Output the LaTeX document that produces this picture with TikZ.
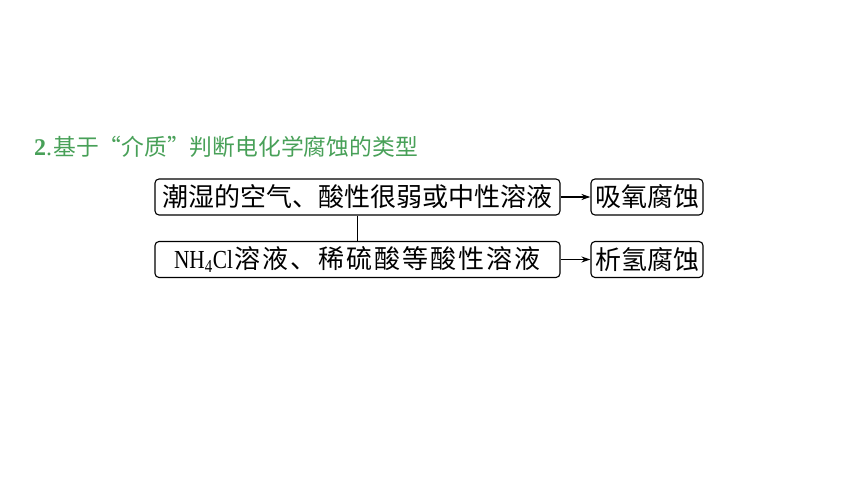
\documentclass[tikz,border=0pt]{standalone}
\usepackage{fontspec}
\setmainfont{Liberation Serif}
\newfontfamily\cjk{Noto Sans CJK SC}
\newfontfamily\latcond[FakeStretch=0.82]{Liberation Serif}
\usetikzlibrary{arrows.meta}
\definecolor{titlegreen}{RGB}{72,160,88}
\newcommand{\spch}[1]{#1\kern2pt}
\tikzset{
  box/.style={draw, line width=1.1pt, rounded corners=4pt, inner sep=0pt, minimum height=36pt, font=\fontsize{26}{28}\selectfont},
  link/.style={line width=1.1pt},
  arr/.style={line width=1.1pt, -{Stealth[length=9pt,width=6pt]}}
}
\begin{document}
\begin{tikzpicture}[x=1pt,y=-1pt]
\useasboundingbox (0,0) rectangle (860,484);
\node[anchor=west, text=titlegreen, font=\fontsize{22.8}{24}\selectfont, inner sep=0pt] (title) at (34,146.5) {{\fontsize{24}{24}\selectfont\textbf{2}.}\kern1pt\cjk 基于“介质”判断电化学腐蚀的类型};
\node[box, minimum width=405pt] (a) at (357.5,197) {\cjk 潮湿的空气、酸性很弱或中性溶液};
\node[box, minimum width=405pt] (b) at (357.5,259.5) {\latcond NH\textsubscript{4}Cl\kern2pt{\cjk \spch{溶}\spch{液}\spch{、}\spch{稀}\spch{硫}\spch{酸}\spch{等}\spch{酸}\spch{性}\spch{溶}液}};
\node[box, minimum width=112pt] (c) at (647,197) {\cjk 吸氧腐蚀};
\node[box, minimum width=112pt] (d) at (647,259.5) {\cjk 析氢腐蚀};
\draw[link] (a.south) -- (b.north);
\draw[arr] (a.east) -- (c.west);
\draw[arr] (b.east) -- (d.west);
\end{tikzpicture}
\end{document}
